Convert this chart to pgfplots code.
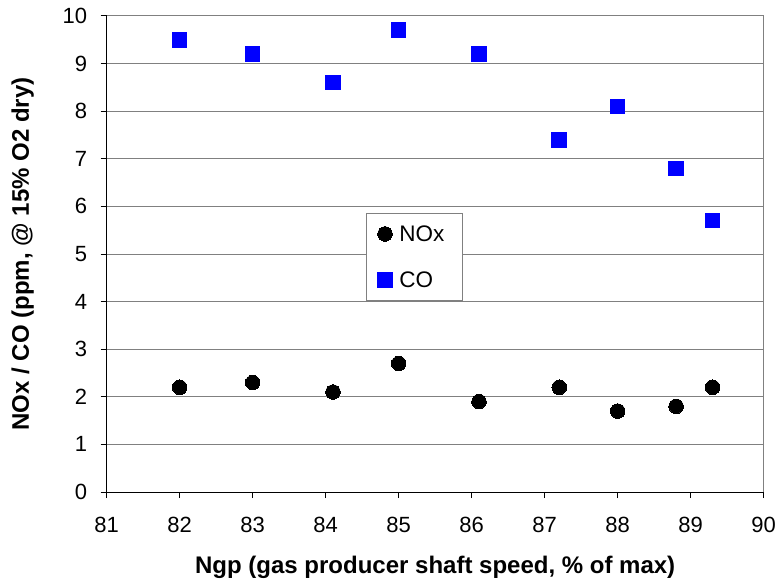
\documentclass[border=0pt]{standalone}
\usepackage{pgfplots}
\pgfplotsset{compat=1.18}
\usepackage{fontspec}
\setmainfont{Liberation Sans}
\begin{document}
\begin{tikzpicture}
\useasboundingbox (-106.7pt,-90pt) rectangle (670.3pt,492pt);
\begin{axis}[
  at={(0,0)}, anchor=south west,
  scale only axis, width=657pt, height=476pt,
  xmin=81, xmax=90, ymin=0, ymax=10,
  xtick={81,...,90}, ytick={0,...,10},
  axis lines*=left,
  axis line style={-, black, line width=1pt},
  tick align=outside,
  major tick length=6pt,
  tick style={black, line width=1pt},
  ymajorgrids,
  grid style={gray, line width=1pt},
  /pgf/number format/assume math mode=true,
  ticklabel style={font=\fontsize{22}{26}\selectfont},
  xticklabel style={yshift=-16pt},
  yticklabel style={xshift=-10pt},
  xlabel={\textbf{Ngp (gas producer shaft speed, \% of max)}},
  ylabel={\textbf{NOx / CO (ppm, @ 15\% O2 dry)}},
  label style={font=\fontsize{24}{28}\selectfont},
  xlabel style={yshift=-16pt},
  ylabel style={yshift=22pt},
  legend style={at={(0.395,0.5855)}, anchor=north west, draw=gray, line width=1pt,
    font=\fontsize{22.5}{27}\selectfont, row sep=25pt, inner xsep=11pt, inner ysep=9.5pt,
    nodes={inner xsep=7pt}},
  legend cell align=left,
  legend image code/.code={\draw[#1, line width=0pt] plot coordinates {(0.32cm+12pt,0cm)};},
  clip=false,
]
\addplot[only marks, mark=*, mark size=7.3pt, black, mark options={line width=0pt}] coordinates {
(82,2.2) (83,2.3) (84.1,2.1) (85,2.7) (86.1,1.9) (87.2,2.2) (88,1.7) (88.8,1.8) (89.3,2.2)};
\addlegendentry{NOx}
\addplot[only marks, mark=square*, mark size=7.3pt, blue, mark options={line width=0pt}] coordinates {
(82,9.5) (83,9.2) (84.1,8.6) (85,9.7) (86.1,9.2) (87.2,7.4) (88,8.1) (88.8,6.8) (89.3,5.7)};
\addlegendentry{CO}
\draw[gray, line width=1pt] (rel axis cs:1,0) -- (rel axis cs:1,1);
\end{axis}
\end{tikzpicture}
\end{document}
